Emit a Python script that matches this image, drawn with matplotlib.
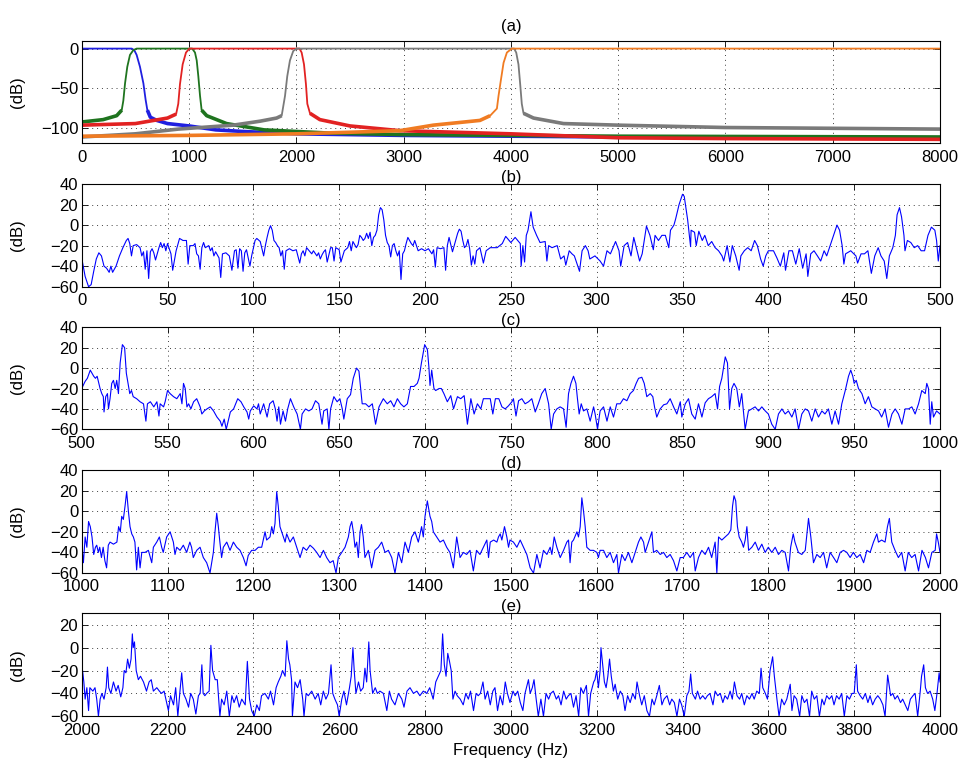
import numpy as np
import matplotlib
matplotlib.use("Agg")
import matplotlib.pyplot as plt

plt.rcParams['font.family'] = ['Liberation Sans', 'DejaVu Sans']
plt.rcParams['font.size'] = 12

# (a) filter bank magnitude responses, (freq Hz, level dB)
lowpass_500 = [(0, 0), (440, 0), (466, 0), (490, -2), (512, -8), (543, -23), (575, -44),
               (596, -65), (612, -78), (640, -87), (700, -91), (800, -95), (1000, -98),
               (1250, -103), (1500, -105), (2000, -108), (3000, -110), (4000, -111),
               (5000, -112), (6000, -112), (7000, -112), (8000, -113)]
band_500_1000 = [(0, -93), (200, -90), (326, -85), (373, -78), (388, -66), (404, -44),
                 (425, -23), (450, -8), (481, -2), (512, 0), (1030, 0), (1056, -5),
                 (1072, -15), (1087, -35), (1103, -60), (1118, -78), (1165, -85),
                 (1350, -95), (1700, -103), (2300, -107), (3000, -109), (4000, -110),
                 (5000, -111), (8000, -112)]
band_1000_2000 = [(0, -97), (500, -95), (800, -88), (880, -83), (900, -70), (916, -45),
                  (941, -20), (972, -5), (1003, 0), (2030, 0), (2050, -5), (2072, -20),
                  (2090, -45), (2103, -70), (2128, -82), (2220, -90), (2500, -98),
                  (2966, -104), (4000, -108), (5000, -113), (6000, -114), (8000, -115)]
band_2000_4000 = [(0, -112), (500, -108), (900, -102), (1413, -97), (1662, -92),
                  (1817, -88), (1864, -85), (1895, -60), (1916, -35), (1941, -15),
                  (1972, -3), (2003, 0), (4030, 0), (4050, -5), (4071, -20), (4087, -45),
                  (4102, -70), (4118, -82), (4211, -88), (4491, -95), (5000, -97),
                  (6000, -100), (7000, -101), (8000, -102)]
highpass_4000 = [(0, -111), (1000, -110), (2000, -108), (2500, -106), (2966, -104),
                 (3277, -97), (3712, -91), (3807, -85), (3870, -76), (3885, -60),
                 (3907, -40), (3932, -18), (3963, -5), (4009, 0), (8000, 0)]
filters = [lowpass_500, band_500_1000, band_1000_2000, band_2000_4000, highpass_4000]
filter_colors = ['#1f1fe0', '#1f741f', '#e22222', '#7a7a7a', '#f07b22']

# (b)-(e) sub-band spectra, (freq Hz, level dB)
spec_b = [(0, -32), (2, -50), (4, -60), (5.5, -58), (7, -45), (8.5, -33), (10, -27),
          (11.5, -30), (13, -40), (14.5, -42), (16, -46), (17, -40), (18, -46), (20, -40),
          (22, -30), (24, -22), (26, -15), (27, -13), (28, -18), (29, -30), (30, -20),
          (32, -19), (34, -22), (35, -30), (36, -26), (37, -43), (38, -25), (39, -52),
          (40, -26), (41, -23), (42, -27), (43, -34), (45, -22), (46, -17), (47, -22),
          (48, -18), (49, -25), (50, -18), (52, -28), (53, -44), (55, -25), (57, -13),
          (59, -15), (61, -15), (62, -38), (63, -20), (65, -20), (66, -18), (67, -28),
          (68, -30), (69, -43), (70, -22), (71, -17), (72, -22), (74, -20), (75, -25),
          (76, -22), (77, -30), (78, -26), (80, -32), (81, -51), (82, -28), (84, -27),
          (86, -30), (87.5, -44), (89, -25), (90, -24), (91, -42), (92, -23), (93, -25),
          (94, -45), (95, -27), (96, -24), (98, -40), (99, -30), (101, -15), (102, -13),
          (104, -16), (106, -30), (107, -20), (108, -12), (109, -5), (110, -0.6),
          (111, -5), (112, -15), (113, -17), (114, -20), (115, -22), (116, -30),
          (117, -25), (118, -43), (119, -25), (121, -23), (123, -25), (125, -24),
          (127, -37), (128, -28), (129, -25), (130, -30), (131, -22), (132, -24),
          (134, -28), (135, -25), (137, -30), (138, -27), (139, -33), (140, -29),
          (141, -26), (142, -24), (143, -36), (145, -22), (146, -22), (147, -35),
          (148, -22), (150, -24), (151, -36), (153, -25), (155, -22), (156, -16),
          (157, -25), (158, -16), (160, -22), (161, -19), (162, -10), (163, -12),
          (164, -15), (165, -13), (166, -8), (167, -13), (168, -7), (169, -20),
          (170, -12), (171, -10), (172, -5), (173, 10), (174, 17), (175, 15), (176, 5),
          (177, -10), (178, -17), (179, -20), (180, -31), (181, -20), (182, -18),
          (183, -25), (184, -30), (185, -25), (186, -53), (187, -28), (188, -25),
          (189, -18), (190, -12), (192, -18), (193, -20), (194, -15), (196, -25),
          (198, -23), (200, -25), (202, -23), (204, -28), (205, -24), (206, -41),
          (207, -22), (209, -23), (211, -22), (212, -44), (213, -20), (214, -12),
          (216, -26), (217, -20), (219, -8), (220, -4), (221, -6), (222, -15),
          (223, -22), (224, -20), (225, -14), (226, -23), (227, -39), (228, -30),
          (229, -38), (230, -25), (232, -22), (234, -37), (235.6, -25), (238, -22),
          (242, -22), (245, -18), (247, -11), (250, -17), (252.5, -12), (255.5, -18),
          (256, -40), (257, -20), (258, -36), (259, -10), (260, -5), (261.7, 13),
          (263, -2), (265, -10), (267, -17), (270, -16), (271, -35), (272, -20),
          (274, -22), (277, -20), (279, -33), (281, -30), (282, -39), (284, -25),
          (285.6, -28), (287, -30), (290, -45), (291.5, -25), (293.4, -20), (295, -25),
          (296, -33), (299, -30), (302, -35), (304, -40), (306, -25), (308, -28),
          (311, -16), (313, -25), (314, -40), (316, -20), (318, -17), (320, -30),
          (321.6, -12), (323.5, -25), (325, -35), (326.5, -28), (329, -1), (331, -10),
          (333, -24), (334, -10), (336, -15), (338, -10), (340, -10), (342, -22),
          (343, -5), (345, 0), (346, 6), (348, 20), (350, 30), (351, 28), (353, 5),
          (354, -10), (354.7, -21), (355, -5), (357, -7), (358, -20), (359.5, -6),
          (361.5, -15), (363, -10), (365, -20), (367, -16), (369, -22), (371, -25),
          (373, -30), (374, -35), (376, -20), (377.6, -36), (379, -20), (381, -30),
          (383, -44), (384, -30), (386, -25), (388, -22), (390, -25), (392, -15),
          (393.6, -20), (395.5, -33), (397, -40), (398.5, -30), (400, -25), (403, -25),
          (405, -32), (407, -40), (409, -27), (410, -44), (412, -25), (414, -25),
          (416, -38), (418, -23), (420, -42), (422, -28), (423, -50), (424.7, -28),
          (426.6, -25), (428.6, -30), (430.5, -35), (432.5, -25), (434, -30), (436, -20),
          (437, -15), (438, -10), (440, 0), (441.5, -5), (443, -20), (444, -38),
          (445, -28), (448, -25), (451, -30), (452, -37), (454, -28), (456, -28),
          (458, -25), (460, -47), (462, -30), (464, -22), (465.6, -30), (467.5, -35),
          (469, -52), (470.5, -30), (472.5, -22), (474, -10), (475, 10), (476.4, 17),
          (477.6, 8), (479, -10), (479.6, -25), (481, -15), (483, -17), (485, -22),
          (487, -20), (489, -25), (491, -25), (493, -10), (495, -2), (497, -5),
          (498, -15), (499, -35), (500, -20)]

spec_c = [(500, -20), (502, -13), (503.3, -10), (505, -2), (507, -8), (508, -10),
          (509, -8), (510.7, -20), (511.7, -25), (512.6, -28), (513, -43), (514, -28),
          (515, -25), (515.6, -40), (516.5, -30), (517.5, -15), (518.5, -12),
          (519.5, -20), (520.4, -12), (521.4, -25), (522.4, 5), (523.7, 23), (525, 20),
          (526, -5), (526.7, -12), (528, -25), (529, -22), (530, -28), (532, -30),
          (534, -33), (536, -35), (537.4, -52), (538.3, -35), (540, -33), (542, -38),
          (543.8, -33), (545, -47), (545.7, -35), (547.7, -38), (548.6, -33), (550, -22),
          (551.5, -25), (553.5, -28), (555.4, -30), (557.4, -25), (558.4, -35),
          (559.3, -15), (560.3, -20), (561.3, -38), (562.3, -35), (563.6, -40),
          (565.2, -33), (567, -30), (569, -38), (570, -45), (571.4, -42), (573, -40),
          (574.9, -38), (576.8, -42), (578.8, -48), (580.7, -52), (581.7, -57),
          (583, -50), (584.2, -60), (585.6, -50), (586.6, -43), (588.5, -40),
          (590.9, -30), (592.8, -33), (594.4, -38), (596.3, -43), (597.3, -50),
          (598.2, -42), (600.2, -37), (602.1, -40), (603, -35), (604, -45), (606, -35),
          (608, -48), (609.5, -35), (611.5, -32), (612.8, -40), (613.8, -52),
          (614.8, -38), (615.8, -55), (617.3, -42), (618.7, -52), (620, -40),
          (621.6, -30), (623.5, -38), (625.5, -45), (627.4, -60), (628.4, -45),
          (630.4, -40), (632.3, -42), (634.2, -40), (636.2, -32), (638.1, -35),
          (640, -55), (641, -42), (643, -40), (644, -60), (645, -40), (646.9, -28),
          (648.8, -33), (650.4, -30), (651.8, -40), (652.7, -50), (654.7, -30),
          (656.6, -26), (658.2, -10), (660.1, 0), (661.5, -3), (662.5, -20),
          (663.4, -35), (665.4, -35), (667.3, -38), (669.3, -35), (671.2, -55),
          (673.2, -38), (675.7, -30), (678, -35), (680, -32), (681.9, -38), (683.9, -30),
          (685.8, -35), (687.7, -38), (689.7, -35), (691.6, -18), (693.6, -18),
          (695.5, -15), (696.5, -10), (697.9, 5), (699.8, 23), (701.4, 18), (702.3, 0),
          (702.9, -17), (703.9, -2), (705.2, -20), (706.2, -22), (708.2, -20),
          (709.5, -20), (711, -25), (713, -33), (715, -27), (716.6, -40), (718.9, -28),
          (720.8, -30), (722.8, -27), (724.7, -55), (726.7, -30), (728.6, -45),
          (730.5, -35), (732.5, -40), (734, -30), (736, -30), (738, -30), (739.5, -45),
          (741, -30), (743, -30), (744.8, -38), (746.7, -40), (748.6, -37), (750.6, -33),
          (751.5, -30), (753, -47), (754.5, -32), (756.4, -30), (758.3, -35),
          (760.3, -33), (762.2, -30), (764.2, -43), (766, -35), (768, -25), (770, -20),
          (772, -35), (773.5, -60), (774.9, -45), (776.8, -40), (778.7, -38),
          (780.7, -40), (782.2, -58), (783.6, -25), (785, -15), (786.5, -8),
          (787.9, -15), (788.8, -30), (789.8, -45), (791, -35), (792.3, -42),
          (794.3, -40), (796.2, -52), (798.2, -38), (799.1, -45), (800.5, -60),
          (802, -42), (804, -38), (806, -52), (807.9, -38), (809.8, -48), (811.7, -35),
          (813.7, -35), (815.6, -30), (817.6, -32), (819.5, -25), (821.4, -22),
          (823, -15), (824.4, -10), (826.3, -9), (827.7, -15), (829.2, -28),
          (831.2, -25), (832.7, -28), (833.7, -38), (835, -48), (837, -40), (839, -36),
          (840.9, -35), (842.8, -30), (844.8, -38), (846.7, -45), (848.7, -33),
          (849.6, -48), (851.6, -35), (853.5, -30), (855.4, -45), (857.4, -50),
          (859.3, -35), (861.3, -48), (863.2, -34), (865.1, -30), (867, -28), (869, -25),
          (870.4, -40), (871.6, -18), (872.9, -10), (874.9, 11), (876.2, 5),
          (877.4, -40), (878.7, -20), (880, -15), (881.6, -20), (883.1, -38),
          (884.5, -25), (886.5, -60), (888.4, -42), (890.4, -40), (892.3, -38),
          (894.3, -42), (896.2, -38), (898.2, -42), (900, -45), (902, -55), (904, -60),
          (905.9, -45), (907.9, -40), (909.8, -45), (911.7, -42), (913.7, -48),
          (915.6, -40), (917.6, -60), (919.5, -45), (921.5, -40), (923.4, -42),
          (925.3, -52), (927.3, -40), (929.2, -48), (931.2, -42), (933, -45), (935, -40),
          (937, -55), (938.9, -42), (940.9, -55), (942.8, -35), (944.8, -22),
          (946.7, -8), (948, -2), (949.2, -8), (950, -15), (951.2, -12), (952.5, -20),
          (954.5, -25), (956.4, -35), (958.3, -28), (960.3, -38), (962.2, -40),
          (964.2, -42), (966, -48), (968, -40), (970, -58), (972, -45), (973.9, -40),
          (975.8, -45), (977.8, -55), (979.7, -40), (981.7, -40), (983.6, -38),
          (985.5, -45), (987.5, -35), (989.4, -22), (991.4, -25), (992.3, -15),
          (993.3, -20), (994.3, -55), (995.2, -33), (996.2, -48), (998, -42),
          (1000, -45)]

spec_d = [(1000, -33), (1002, -50), (1004, -25), (1006, -35), (1008, -10), (1010, -15),
          (1012, -25), (1014, -42), (1016, -35), (1017.5, -33), (1019.4, -40),
          (1021, -35), (1023, -45), (1025, -35), (1027, -48), (1029, -55), (1031, -33),
          (1033, -30), (1037, -32), (1041, -30), (1043, -15), (1045, -20),
          (1046.6, -5), (1048.5, -8), (1050.5, 5), (1052.4, 19), (1054.4, 0),
          (1056.3, -15), (1058.3, -22), (1060.2, -25), (1062, -30), (1064, -57),
          (1066, -35), (1068, -55), (1070, -40), (1073.8, -40), (1077.7, -38),
          (1081.6, -50), (1083.5, -35), (1087.4, -30), (1090.5, -25), (1093.2, -35),
          (1095, -40), (1099, -25), (1103, -20), (1106.8, -30), (1108.7, -42),
          (1110.7, -35), (1114.6, -38), (1118.4, -33), (1122.3, -40), (1126, -30),
          (1128, -35), (1130, -45), (1134, -38), (1137.9, -35), (1141.7, -45),
          (1145.6, -50), (1149.5, -60), (1153.4, -40), (1155.3, -20), (1157.3, -2),
          (1159.2, -15), (1161, -30), (1163, -45), (1165, -35), (1169, -30),
          (1172.8, -38), (1176.7, -30), (1180.6, -35), (1184.5, -38), (1188.3, -45),
          (1191.5, -53), (1194, -43), (1198, -38), (1202, -38), (1205.8, -35),
          (1209.7, -35), (1213.6, -20), (1215.5, -28), (1219.4, -25), (1221.4, -15),
          (1223.3, -22), (1225.2, -12), (1227.2, 19), (1229, 5), (1231, -15),
          (1233, -20), (1235, -25), (1237, -30), (1238.8, -22), (1242.7, -30),
          (1246.6, -25), (1250.5, -35), (1254.4, -45), (1258, -35), (1262, -38),
          (1266, -33), (1270, -36), (1273.8, -40), (1277.7, -45), (1281.6, -38),
          (1285.4, -45), (1289.3, -50), (1293, -48), (1296.3, -60), (1299, -45),
          (1303, -40), (1306.8, -35), (1310.7, -25), (1312.6, -15), (1314.6, -10),
          (1316.5, -20), (1318.4, -35), (1320.4, -30), (1322.3, -45), (1324.3, -20),
          (1326, -13), (1328, -25), (1330, -45), (1334, -38), (1337.8, -55),
          (1341.7, -38), (1345.6, -35), (1349.5, -30), (1353.4, -40), (1357.3, -38),
          (1361.2, -45), (1365, -60), (1369, -40), (1372.8, -50), (1376.7, -30),
          (1380.6, -40), (1384.5, -25), (1388.3, -20), (1392.2, -30), (1396, -15),
          (1398, -25), (1400, -5), (1402.7, 10), (1405.8, -5), (1407.8, -10),
          (1409.7, -20), (1413.6, -25), (1417.5, -30), (1421.4, -28), (1425.2, -35),
          (1429, -40), (1433, -55), (1436.9, -25), (1440.8, -45), (1444.7, -40),
          (1448.5, -42), (1452.4, -38), (1456.3, -58), (1460, -38), (1464, -42),
          (1468, -35), (1472, -28), (1474, -45), (1476, -30), (1480, -28),
          (1483.7, -30), (1485.6, -25), (1487.6, -22), (1489.5, -28), (1492.6, -15),
          (1495.3, -25), (1497.3, -35), (1499, -28), (1503, -30), (1507, -35),
          (1510.9, -28), (1514.8, -35), (1518.6, -42), (1522.5, -55), (1526.4, -60),
          (1530.3, -42), (1534, -55), (1538, -38), (1542, -42), (1545.8, -35),
          (1547.8, -42), (1550.5, -25), (1553.6, -35), (1557.5, -45), (1561.4, -38),
          (1565.2, -30), (1567.2, -28), (1569, -50), (1571, -30), (1573, -28),
          (1577, -20), (1578.8, -25), (1580.8, -15), (1582.7, 13), (1584.7, 0),
          (1586.6, -15), (1588.5, -35), (1592.4, -38), (1596.3, -38), (1600.2, -40),
          (1602, -45), (1604, -38), (1608, -38), (1611.8, -45), (1615.7, -40),
          (1619.6, -50), (1623.5, -42), (1625.4, -60), (1629.3, -42), (1633, -48),
          (1637, -40), (1641, -50), (1644.9, -40), (1648.7, -30), (1651.5, -25),
          (1654.6, -30), (1656.5, -40), (1660.4, -30), (1664.3, -20), (1666.2, -40),
          (1670, -38), (1674, -42), (1677.9, -40), (1681.7, -45), (1685.6, -42),
          (1689.5, -48), (1693.4, -58), (1697.3, -45), (1701, -45), (1705, -40),
          (1708.9, -45), (1712.8, -40), (1714.8, -58), (1718.6, -45), (1722.5, -38),
          (1726.4, -42), (1730.3, -35), (1734, -45), (1738, -30), (1740, -60),
          (1742, -25), (1745.8, -28), (1749.7, -25), (1753.6, -22), (1756.3, -18),
          (1758.3, 5), (1760, 15), (1762, 10), (1764, -15), (1766, -25), (1769, -30),
          (1771, -35), (1773, -28), (1775, -15), (1777, -38), (1780.8, -35),
          (1784.7, -30), (1788.5, -38), (1792.4, -32), (1796.3, -40), (1800, -35),
          (1804, -40), (1808, -35), (1811.8, -42), (1815.7, -38), (1819.6, -40),
          (1823.5, -58), (1826, -35), (1829, -22), (1831, -30), (1835, -40),
          (1839, -42), (1843, -38), (1846.8, -7), (1849.5, -25), (1852.6, -50),
          (1856.5, -42), (1860.4, -45), (1864.3, -40), (1868, -55), (1872, -40),
          (1876, -45), (1879.8, -50), (1883.7, -40), (1887.6, -38), (1891.5, -40),
          (1895.3, -45), (1899, -40), (1903, -45), (1907, -42), (1911, -50),
          (1914.8, -38), (1918.6, -40), (1922.5, -30), (1926.4, -22), (1928.3, -30),
          (1932, -28), (1936, -30), (1938.8, -15), (1941, -7), (1943.8, -30),
          (1947.6, -38), (1951.5, -45), (1955.4, -40), (1959.4, -58), (1963, -40),
          (1967, -45), (1971, -42), (1975, -58), (1979, -38), (1983, -45),
          (1986.6, -55), (1990.5, -40), (1994.4, -38), (1996, -22), (1998, -30),
          (2000, -40)]

spec_e = [(2000, -45), (2002, -20), (2005, -30), (2008, -45), (2012, -35), (2016, -55),
          (2019, -35), (2026, -38), (2031, -35), (2035, -45), (2039, -60), (2043, -45),
          (2047, -40), (2052, -45), (2057, -35), (2060, -17), (2063, -35), (2068, -40),
          (2074, -30), (2080, -38), (2085, -33), (2091, -43), (2096, -35), (2099, -20),
          (2103, -22), (2107, -10), (2111, -18), (2115, -10), (2118, 12), (2120, 0),
          (2123, 5), (2127, -20), (2132, -28), (2137, -25), (2144, -30), (2151, -38),
          (2157, -30), (2162, -28), (2167, -38), (2175, -35), (2181, -38), (2186, -40),
          (2192, -38), (2198, -48), (2202, -55), (2207, -42), (2214, -50), (2219, -35),
          (2224, -60), (2229, -38), (2233, -22), (2237, -40), (2243, -45), (2249, -52),
          (2254, -40), (2260, -45), (2266, -58), (2272, -42), (2276, -40), (2280, -15),
          (2283, -40), (2287, -42), (2291, -40), (2297, -38), (2301, 2), (2305, -20),
          (2311, -28), (2316, -28), (2322, -60), (2326, -45), (2332, -50), (2338, -38),
          (2344, -60), (2350, -42), (2355, -48), (2361, -42), (2367, -52), (2373, -45),
          (2381, -50), (2386, -12), (2391, -45), (2396, -55), (2402, -60), (2408, -50),
          (2414, -55), (2419, -42), (2427, -40), (2435, -45), (2440, -38), (2447, -50),
          (2453, -35), (2458, -30), (2464, -25), (2468, -20), (2474, -25), (2478, 6),
          (2482, -10), (2485, -15), (2489, -28), (2491, -60), (2497, -30), (2503, -35),
          (2509, -28), (2515, -45), (2518, -60), (2523, -40), (2528, -42), (2536, -38),
          (2544, -45), (2551, -40), (2557, -50), (2563, -38), (2569, -45), (2575, -40),
          (2581, -15), (2585, -40), (2590, -45), (2596, -50), (2600, -60), (2606, -45),
          (2611, -38), (2617, -50), (2624, -35), (2628, -25), (2632, 0), (2635, -20),
          (2639, -40), (2645, -30), (2650, -38), (2656, -35), (2660, -18), (2664, -30),
          (2669, 5), (2672, -20), (2678, -40), (2684, -35), (2689, -40), (2695, -38),
          (2703, -40), (2711, -55), (2717, -38), (2722, -45), (2730, -50), (2738, -40),
          (2746, -45), (2751, -52), (2758, -38), (2765, -35), (2773, -40), (2781, -38),
          (2788, -42), (2796, -38), (2804, -40), (2811, -35), (2819, -45), (2825, -30),
          (2831, -25), (2837, -20), (2841, 12), (2845, -15), (2849, -25), (2853, -5),
          (2857, -12), (2861, -20), (2865, -45), (2870, -38), (2875, -42), (2882, -45),
          (2889, -50), (2895, -40), (2901, -45), (2906, -38), (2913, -55), (2919, -40),
          (2924, -42), (2929, -40), (2935, -30), (2940, -45), (2946, -38), (2952, -50),
          (2958, -38), (2963, -35), (2969, -55), (2975, -42), (2981, -50), (2987, -30),
          (2992, -40), (2998, -48), (3005, -38), (3010, -42), (3016, -38), (3022, -48),
          (3028, -55), (3033, -40), (3041, -28), (3045, -40), (3050, -35), (3054, -28),
          (3059, -45), (3064, -60), (3070, -45), (3076, -60), (3082, -40), (3088, -45),
          (3093, -40), (3099, -38), (3106, -45), (3111, -42), (3117, -50), (3123, -38),
          (3129, -45), (3134, -42), (3140, -40), (3146, -52), (3152, -42), (3158, -60),
          (3163, -35), (3169, -40), (3176, -33), (3181, -60), (3186, -40), (3193, -30),
          (3196, -28), (3200, -20), (3204, -35), (3208, -20), (3210, 0), (3214, -15),
          (3218, -30), (3222, -35), (3226, -25), (3230, -10), (3234, -25), (3239, -38),
          (3243, -32), (3249, -45), (3255, -38), (3261, -42), (3266, -55), (3272, -42),
          (3278, -48), (3284, -40), (3290, -45), (3294, -30), (3300, -42), (3305, -50),
          (3311, -42), (3317, -55), (3323, -60), (3329, -45), (3334, -50), (3340, -42),
          (3346, -33), (3352, -50), (3357, -45), (3364, -42), (3370, -50), (3375, -45),
          (3381, -48), (3387, -60), (3393, -45), (3398, -50), (3404, -60), (3410, -42),
          (3415, -38), (3419, -23), (3423, -40), (3430, -45), (3435, -38), (3441, -45),
          (3447, -42), (3453, -45), (3458, -42), (3464, -40), (3471, -50), (3476, -38),
          (3482, -42), (3488, -40), (3494, -48), (3499, -42), (3505, -45), (3511, -38),
          (3516, -45), (3521, -30), (3527, -42), (3533, -45), (3538, -40), (3544, -50),
          (3550, -42), (3556, -45), (3562, -40), (3567, -45), (3573, -38), (3579, -40),
          (3583, -18), (3587, -35), (3593, -40), (3598, -45), (3604, -20), (3610, -8),
          (3614, -25), (3620, -45), (3625, -60), (3631, -45), (3637, -50), (3643, -45),
          (3651, -32), (3655, -55), (3660, -42), (3666, -45), (3673, -60), (3678, -42),
          (3684, -48), (3690, -45), (3696, -60), (3701, -38), (3707, -45), (3713, -42),
          (3719, -60), (3725, -45), (3730, -50), (3736, -42), (3742, -45), (3748, -42),
          (3753, -50), (3759, -42), (3765, -45), (3771, -40), (3777, -60), (3783, -42),
          (3789, -45), (3795, -40), (3800, -40), (3805, -15), (3808, -38), (3814, -42),
          (3820, -45), (3826, -40), (3832, -48), (3837, -42), (3843, -50), (3849, -45),
          (3855, -42), (3861, -45), (3867, -50), (3872, -60), (3878, -24), (3885, -42),
          (3890, -40), (3895, -45), (3901, -42), (3908, -48), (3913, -45), (3919, -50),
          (3925, -55), (3931, -45), (3937, -42), (3942, -40), (3948, -60), (3954, -38),
          (3957, -25), (3962, -15), (3966, -35), (3971, -40), (3977, -38), (3983, -45),
          (3988, -55), (3993, -40), (3998, -22), (4000, -30)]

panels = [
    ('(b)', spec_b, (0, 500), range(0, 501, 50), (-60, 40)),
    ('(c)', spec_c, (500, 1000), range(500, 1001, 50), (-60, 40)),
    ('(d)', spec_d, (1000, 2000), range(1000, 2001, 100), (-60, 40)),
    ('(e)', spec_e, (2000, 4000), range(2000, 4001, 200), (-60, 30)),
]

W, H = 961, 762
fig = plt.figure(figsize=(W / 100, H / 100), dpi=100)
left, right = 81.7, 940.0
rows = [(40.7, 143.3), (184.0, 286.7), (327.3, 429.3), (470.0, 573.0), (613.3, 716.3)]
axes = [fig.add_axes([left / W, 1 - bot / H, (right - left) / W, (bot - top) / H])
        for top, bot in rows]


def style(ax):
    ax.tick_params(direction='in', top=True, right=True, length=4, width=0.6,
                   labelsize=12)
    ax.tick_params(axis='x', pad=4.5)
    ax.tick_params(axis='y', pad=2.5)
    ax.grid(True, linestyle=(0, (1, 4)), color='0.25', linewidth=0.7)
    for s in ax.spines.values():
        s.set_linewidth(0.8)
    ax.set_ylabel('(dB)', fontsize=12)
    ax.yaxis.set_label_coords(-0.066, 0.5)


# (a) filter bank
ax = axes[0]
for resp, col in zip(filters, filter_colors):
    f = np.array([p[0] for p in resp], dtype=float)
    db = np.array([p[1] for p in resp], dtype=float)
    ax.plot(f, db, color=col, linewidth=1.3)
    ax.plot(f, np.where(db <= -78, db, np.nan), color=col, linewidth=2.6,
            solid_capstyle='butt')
ax.set_xlim(0, 8000)
ax.set_ylim(-120, 10)
ax.set_xticks(range(0, 8001, 1000))
ax.set_yticks([-100, -50, 0])
ax.set_title('(a)', fontsize=12, pad=7)
style(ax)

for ax, (name, spec, xl, xt, yl) in zip(axes[1:], panels):
    f = [p[0] for p in spec]
    db = [p[1] for p in spec]
    ax.plot(f, db, color='#0000ff', linewidth=0.8)
    ax.set_xlim(*xl)
    ax.set_ylim(*yl)
    ax.set_xticks(list(xt))
    ax.set_yticks(range(-60, yl[1] + 1, 20))
    ax.set_title(name, fontsize=12, pad=1.5)
    style(ax)

axes[-1].set_xlabel('Frequency (Hz)', fontsize=12, labelpad=4)

fig.savefig('out.png', dpi=100)
